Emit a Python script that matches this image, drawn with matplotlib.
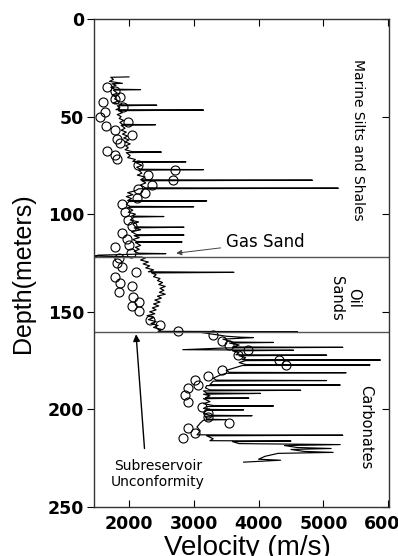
import matplotlib
matplotlib.use("Agg")
import matplotlib.pyplot as plt

# well log (sonic velocity) - depth in m, velocity in m/s
log_depth = [
    29.7, 29.9, 31, 32, 33, 33.2, 34, 35, 36, 36.2, 36.5, 38, 39, 40, 41, 42, 43, 44, 44.2, 44.5,
    45.5, 46.5, 46.7, 47, 48, 49, 50, 51, 52, 53, 54, 54.2, 54.5, 56, 57, 58, 59, 60, 61, 62,
    63, 64, 65, 66, 67, 68, 68.2, 68.5, 70, 71, 72, 73, 73.2, 73.5, 75, 76, 77, 77.2, 77.5, 79,
    80, 81, 82.4, 82.6, 82.9, 84, 85, 86.5, 86.7, 87, 88, 89, 90, 91, 92, 93, 93.2, 93.5, 95, 96,
    96.2, 96.5, 98, 99, 100, 101, 101.2, 101.5, 103, 104, 105, 106.5, 106.7, 107, 108, 109, 110.5, 110.7, 111, 112,
    113, 114, 114.2, 114.5, 116, 117, 118, 119, 120, 120.2, 120.5, 121, 121.5, 121.8, 122,
    122.5, 123.5, 124.5, 125.5, 126.5, 127.5, 128.5, 129.5, 129.8, 130.1, 131, 132, 133, 134, 135, 136, 137, 138, 139, 140,
    141, 142, 143, 144, 145, 146, 147, 148, 149, 150, 151, 152, 153, 154, 155, 156, 157, 158, 159, 160,
    160.2, 160.5,
    161.5, 162.5, 163, 163.2, 164, 165.5, 165.7, 166, 167, 168, 168.2, 168.5, 169.4, 169.7, 170, 171, 172, 172.2, 172.5, 173.5,
    174.5, 174.7, 175, 176, 177, 177.2, 177.5, 179, 180, 181, 181.2, 181.5, 182.5, 184, 185, 185.2, 185.5, 187.3, 187.5, 187.8,
    189, 190, 190.2, 190.5, 191.6, 191.8, 192.2, 193, 194, 194.2, 194.5, 196, 197, 198, 198.2, 198.5, 199.5, 200, 200.2, 200.5,
    202, 203, 203.2, 203.5, 205, 205.2, 205.5, 207, 209, 211, 213, 213.2, 213.5, 215, 216, 216.2, 216.5, 217.5, 218, 218.5,
    219.5, 220, 220.5, 221.5, 222, 222.5, 224, 225.5, 226, 227,
]
log_vel = [
    2000, 1720, 1760, 1700, 1900, 1740, 1800, 1720, 1780, 2180, 1760, 1820, 1740, 1800, 1780, 1840, 1760, 1900, 2430, 1820,
    1860, 1800, 3150, 1840, 1900, 1820, 1880, 1850, 1920, 1860, 1900, 2410, 1880, 1940, 1880, 1960, 1900, 1980, 1920, 2000,
    1940, 2020, 1950, 1990, 1940, 2050, 2500, 1960, 2020, 1980, 2100, 2060, 2880, 2100, 2200, 2120, 2180, 3150, 2150, 2200,
    2130, 2250, 2180, 4830, 2200, 2260, 2180, 2250, 5230, 2150, 2100, 1980, 2060, 1960, 2040, 1980, 3200, 2000, 1960, 2020,
    3000, 1980, 2060, 1990, 2100, 2040, 2540, 2080, 2020, 2150, 2060, 2100, 2850, 2080, 2180, 2040, 2120, 2850, 2080, 2160,
    2060, 2120, 2820, 2100, 2180, 2100, 2160, 2080, 2150, 2570, 2100, 1520, 1480, 2000, 2200,
    2250, 2180, 2300, 2220, 2320, 2260, 2380, 2300, 3620, 2350, 2420, 2380, 2480, 2440, 2520, 2460, 2560, 2480, 2540, 2470,
    2560, 2440, 2500, 2400, 2480, 2380, 2460, 2360, 2420, 2320, 2400, 2280, 2380, 2300, 2420, 2340, 2450, 2380, 2500, 2450,
    4600, 3100,
    3300, 3500, 3720, 3920, 3450, 3600, 4230, 3550, 3700, 3600, 5300, 3500, 2830, 4540, 3600, 3700, 3650, 5050, 3700, 3800,
    3750, 5880, 3800, 3700, 3800, 5720, 3750, 3600, 3500, 3550, 5350, 3500, 3400, 3300, 3350, 5050, 3300, 3250, 5260, 3200,
    3180, 3250, 4650, 3150, 3200, 4030, 3150, 3250, 3180, 3850, 3150, 3250, 3150, 3300, 4230, 3200, 3150, 3250, 3770, 3200,
    3150, 3250, 3900, 3180, 3200, 3500, 3150, 3100, 3050, 3100, 3050, 5300, 3200, 3300, 3250, 4500, 3600, 3700, 5260, 4400,
    4600, 5120, 4500, 4700, 5150, 4300, 4100, 4000, 4340, 3770,
]

# point measurements (open circles)
pt_depth = [
    35, 37, 40, 41, 42.5, 45, 47.6, 50, 52.6, 55, 57, 59.5, 61.6, 63.8, 67.5, 69.6, 72, 75, 77.4, 80,
    82.5, 85, 87, 89, 91.8, 94.8, 99, 103, 106, 109.6, 112.7, 116, 117, 120, 122.5, 125, 127, 129.6, 132, 135,
    137, 140, 142.5, 145, 147, 149.6, 154, 157, 160,
    162, 165, 167, 169.6, 172, 174.7, 177, 180, 183, 185, 187.5, 189, 192.6, 196, 199, 202, 204, 207, 209.5, 212, 214.6,
]
pt_vel = [
    1660, 1785, 1860, 1785, 1600, 1910, 1630, 1550, 1985, 1650, 1785, 2045, 1815, 1860, 1660, 1785, 1815, 2140, 2710, 2290,
    2680, 2350, 2140, 2250, 2120, 1890, 1940, 1985, 2045, 1890, 1970, 2000, 1780, 2030, 1850, 1815, 1900, 2110, 1780, 1860,
    2050, 1845, 2060, 2160, 2045, 2160, 2330, 2480, 2760,
    3290, 3430, 3550, 3830, 3680, 4320, 4430, 3430, 3220, 3015, 3060, 2910, 2860, 2910, 3120, 3220, 3220, 3550, 2910, 3015, 2830,
]

gas_sand_top = 122
unconformity = 160.5

fig = plt.figure(figsize=(3.98, 5.56), dpi=100)
ax = fig.add_axes([0.236, 0.088, 0.741, 0.878])

ax.plot(log_vel, log_depth, color='black', lw=0.85)
ax.plot(pt_vel, pt_depth, 'o', mfc='none', mec='black', ms=6.5, mew=0.8)

ax.axhline(gas_sand_top, color='#555555', lw=1.0)
ax.axhline(unconformity, color='#555555', lw=1.0)

ax.set_xlim(1460, 6010)
ax.set_ylim(250, 0)
ax.set_xticks([2000, 3000, 4000, 5000, 6000])
ax.set_yticks([0, 50, 100, 150, 200, 250])

for s in ax.spines.values():
    s.set_linewidth(1.0)
    s.set_color('#333333')

ax.tick_params(axis='x', direction='in', top=True, length=5, pad=6)
ax.tick_params(axis='y', direction='out', length=5, pad=2)
ax.tick_params(axis='y', which='major', right=True)
for t in ax.yaxis.get_major_ticks():
    t.tick2line.set_marker(matplotlib.lines.TICKLEFT)
for lab in ax.get_xticklabels() + ax.get_yticklabels():
    lab.set_fontfamily('DejaVu Sans')
    lab.set_fontweight('bold')
    lab.set_fontsize(12.5)

ax.set_ylabel('Depth(meters)', fontsize=18, family='Liberation Sans')
ax.yaxis.set_label_coords(-0.2, 0.48)
ax.set_xlabel('Velocity (m/s)', fontsize=20, family='Liberation Sans')
ax.xaxis.set_label_coords(0.522, -0.058)

# zone labels
ax.text(5540, 62, 'Marine Silts and Shales', rotation=-90, ha='center', va='center', fontsize=10)
ax.text(5340, 143, 'Oil\nSands', rotation=-90, ha='center', va='center', fontsize=10.5, multialignment='center')
ax.text(5650, 209, 'Carbonates', rotation=-90, ha='center', va='center', fontsize=10.5)

ax.annotate('Gas Sand', xy=(2730, 120), xytext=(3500, 114.5),
            fontsize=12, va='center', ha='left',
            arrowprops=dict(arrowstyle='-|>', color='#444444', lw=0.7, mutation_scale=8,
                            shrinkA=2, shrinkB=0))
ax.text(2450, 233, 'Subreservoir\nUnconformity', fontsize=10, ha='center', va='center',
        multialignment='center')
ax.annotate('', xy=(2110, 161.5), xytext=(2240, 220),
            arrowprops=dict(arrowstyle='-|>', color='black', lw=1.0, mutation_scale=10,
                            shrinkA=0, shrinkB=0))

fig.savefig('out.png', dpi=100)
